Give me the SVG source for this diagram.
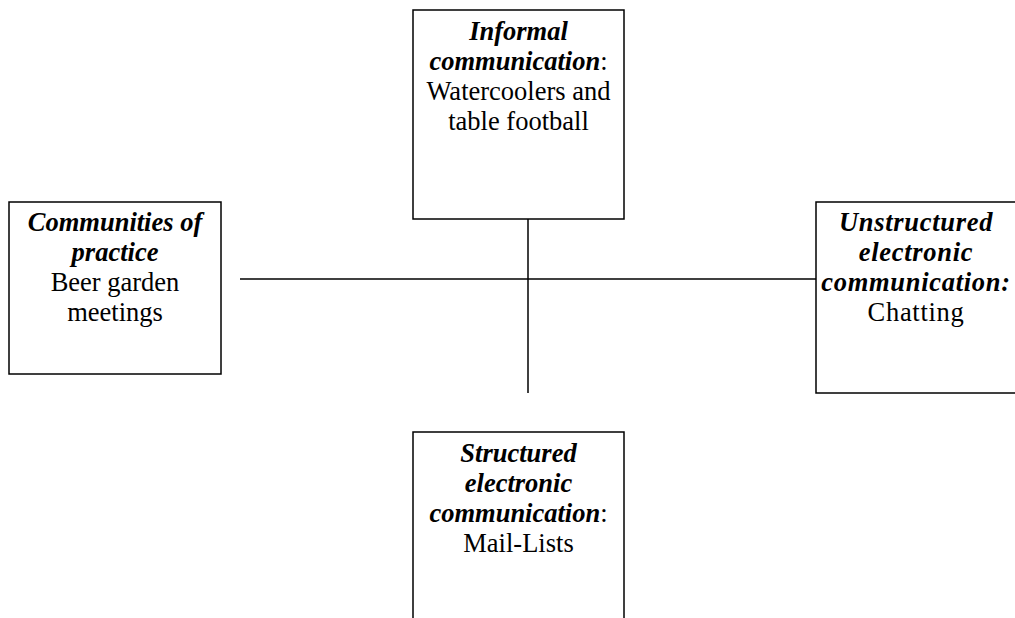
<svg xmlns="http://www.w3.org/2000/svg" width="1015" height="618" viewBox="0 0 1015 618">
<style>
.box{fill:#fff;stroke:#000;stroke-width:1.5}
.ln{stroke:#000;stroke-width:1.5;fill:none}
text{font-family:"Liberation Serif","Times New Roman",serif;font-size:26.5px;fill:#000;text-anchor:middle}
.bi{font-weight:bold;font-style:italic}
.sp{letter-spacing:0.7px}
</style>
<rect width="1015" height="618" fill="#fff"/>
<g id="connectors">
<line class="ln" x1="240" y1="279" x2="816" y2="279"/>
<line class="ln" x1="528" y1="219" x2="528" y2="393"/>
</g>
<g id="informal">
<rect class="box" x="413" y="10" width="211" height="209"/>
<text x="518.5" y="40"><tspan class="bi">Informal</tspan></text>
<text x="518.5" y="70"><tspan class="bi">communication</tspan>:</text>
<text x="518.5" y="100">Watercoolers and</text>
<text x="518.5" y="130">table football</text>
</g>
<g id="communities">
<rect class="box" x="9" y="202" width="212" height="172"/>
<text x="115" y="231"><tspan class="bi">Communities of</tspan></text>
<text x="115" y="261"><tspan class="bi">practice</tspan></text>
<text x="115" y="291">Beer garden</text>
<text x="115" y="321">meetings</text>
</g>
<g id="unstructured">
<rect class="box" x="816" y="202" width="210" height="191"/>
<text class="sp" x="916" y="231"><tspan class="bi">Unstructured</tspan></text>
<text class="sp" x="916" y="261"><tspan class="bi">electronic</tspan></text>
<text class="sp" x="916" y="291"><tspan class="bi">communication:</tspan></text>
<text class="sp" x="916" y="321">Chatting</text>
</g>
<g id="structured">
<rect class="box" x="413" y="432" width="211" height="200"/>
<text x="518.5" y="462"><tspan class="bi">Structured</tspan></text>
<text x="518.5" y="492"><tspan class="bi">electronic</tspan></text>
<text x="518.5" y="522"><tspan class="bi">communication</tspan>:</text>
<text x="518.5" y="552">Mail-Lists</text>
</g>
</svg>
